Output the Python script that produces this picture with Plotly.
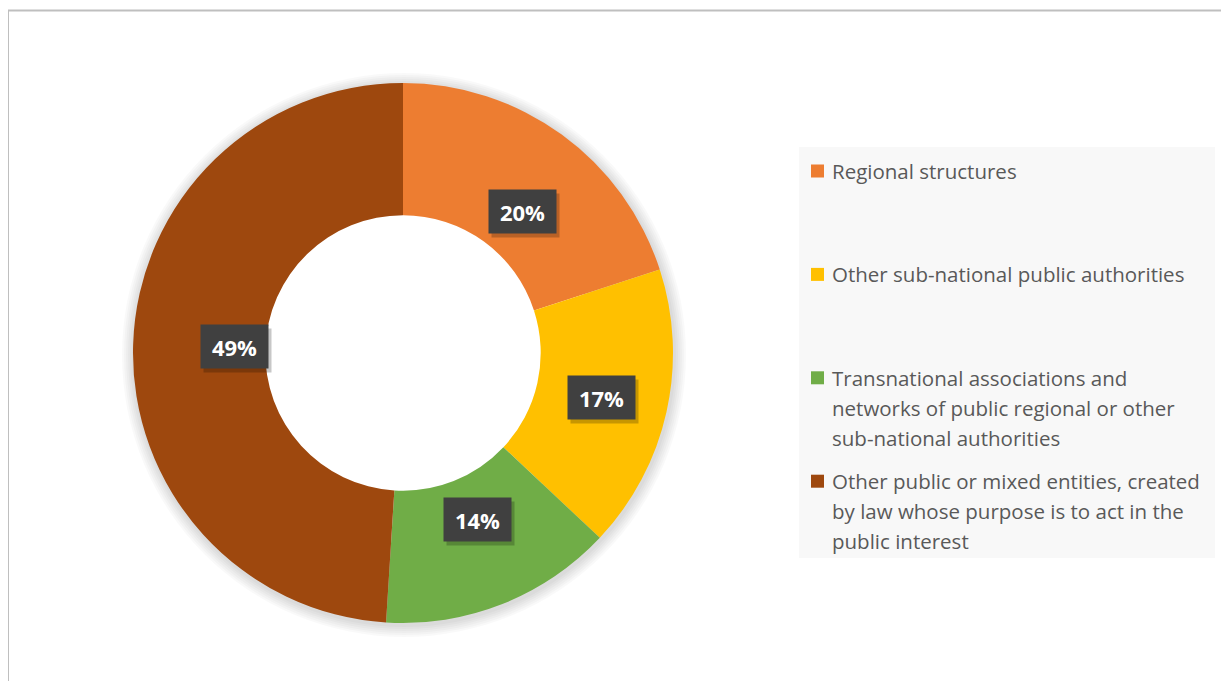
import math
import plotly.graph_objects as go

categories = [
    "Regional structures",
    "Other sub-national public authorities",
    "Transnational associations and networks of public regional or other sub-national authorities",
    "Other public or mixed entities, created by law whose purpose is to act in the public interest",
]
legend_lines = [
    ["Regional structures"],
    ["Other sub-national public authorities"],
    ["Transnational associations and", "networks of public regional or other", "sub-national authorities"],
    ["Other public or mixed entities, created", "by law whose purpose is to act in the", "public interest"],
]
values = [20, 17, 14, 49]
colors = ["#ED7D31", "#FFC000", "#70AD47", "#9E480E"]

OFF = 8                      # page body margin
W, H = 1229 - OFF, 689 - 2 * OFF
cx, cy, R = 403, 353, 270
HOLE = 0.51


def fx(px):
    return (px - OFF) / W


def fy(py):
    return 1 - (py - OFF) / H


fig = go.Figure()

# soft shadow rings behind the donut
for k in range(6, 0, -1):
    rr = R + 2 * k
    scx, scy = cx + 1, cy + 2
    fig.add_trace(go.Pie(
        values=[1], sort=False, hole=(0.7 * R) / rr, textinfo="none", hoverinfo="skip",
        showlegend=False, marker=dict(colors=["rgba(0,0,0,0.022)"], line=dict(width=0)),
        domain=dict(x=[fx(scx - rr), fx(scx + rr)], y=[fy(scy + rr), fy(scy - rr)]),
    ))

fig.add_trace(go.Pie(
    labels=categories, values=values, sort=False, direction="clockwise", rotation=0,
    hole=HOLE, marker=dict(colors=colors, line=dict(color="white", width=0)),
    textinfo="none", hoverinfo="label+percent", showlegend=False,
    domain=dict(x=[fx(cx - R), fx(cx + R)], y=[fy(cy + R), fy(cy - R)]),
))

annotations = []
shapes = []

# frame
shapes.append(dict(type="rect", xref="paper", yref="paper", x0=fx(8), x1=1.05, y0=-0.05, y1=fy(10.5),
                   line=dict(color="#BFBFBF", width=2), fillcolor="rgba(0,0,0,0)", layer="below"))

# data labels
total = sum(values)
cum = 0
r_lab = 0.752 * R
for v in values:
    mid = (cum + v / 2) / total
    cum += v
    th = 2 * math.pi * mid
    px = cx + r_lab * math.sin(th)
    py = cy - r_lab * math.cos(th)
    txt = f"{round(100 * v / total)}%"
    annotations.append(dict(x=fx(px + 3), y=fy(py + 4), xref="paper", yref="paper", text=" ",
                            showarrow=False, width=65, height=41, bgcolor="rgba(0,0,0,0.22)",
                            font=dict(size=20)))
    annotations.append(dict(x=fx(px), y=fy(py), xref="paper", yref="paper", text=f"<b>{txt}</b>",
                            showarrow=False, width=65, height=41, bgcolor="#404040",
                            font=dict(family="Open Sans, sans-serif", size=22, color="white")))

# legend
shapes.append(dict(type="rect", xref="paper", yref="paper", x0=fx(799), x1=fx(1215),
                   y0=fy(558), y1=fy(147), line=dict(width=0), fillcolor="#F8F8F8", layer="below"))
y_first, step, line_h = 171, 103.4, 30
for i, (lines, col) in enumerate(zip(legend_lines, colors)):
    y0 = y_first + i * step
    shapes.append(dict(type="rect", xref="paper", yref="paper", x0=fx(811), x1=fx(824),
                       y0=fy(y0 + 6.5), y1=fy(y0 - 6.5), line=dict(width=0), fillcolor=col))
    for j, ln in enumerate(lines):
        annotations.append(dict(x=fx(830), y=fy(y0 + j * line_h), xref="paper", yref="paper",
                                text=ln, showarrow=False, xanchor="left", yanchor="middle", align="left",
                                font=dict(family="Open Sans, sans-serif", size=20.5, color="#595959")))

fig.update_layout(
    width=W, height=H, margin=dict(l=0, r=0, t=0, b=0),
    paper_bgcolor="white", plot_bgcolor="white",
    shapes=shapes, annotations=annotations, showlegend=False,
)
fig.write_html("out.html")
